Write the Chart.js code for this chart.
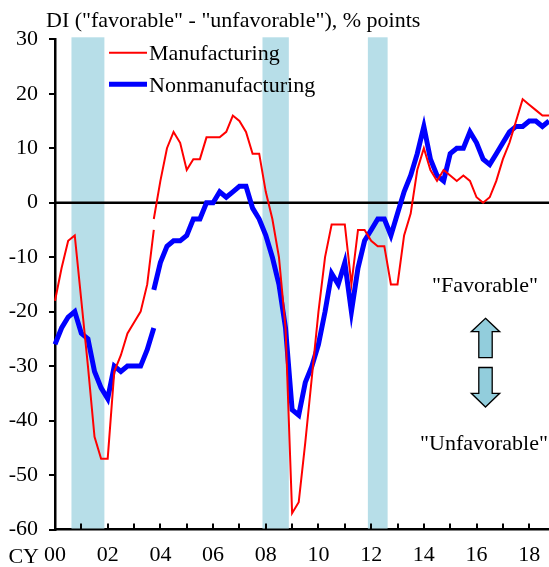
<!DOCTYPE html>
<html>
<head>
<meta charset="utf-8">
<script src="https://cdn.jsdelivr.net/npm/chart.js@4.4.1/dist/chart.umd.min.js"></script>
<style>
html,body{margin:0;padding:0;background:#ffffff;}
canvas{display:block;}
</style>
</head>
<body>
<canvas id="chart" width="549" height="567"></canvas>
<script>
// ---- categories: quarterly Tankan surveys, Mar 2000 .. Dec 2018 ----
const quarterLabels = [];
for (let yr = 2000; yr <= 2018; yr++) {
  for (const m of ['Mar', 'Jun', 'Sep', 'Dec']) quarterLabels.push(m + ' ' + yr);
}
const yearTickLabels = ['00', '02', '04', '06', '08', '10', '12', '14', '16', '18'];

// ---- series (old basis: Mar 2000 .. Dec 2003) ----
const mfgOld = [-18, -12, -7, -6, -18, -30, -43, -47, -47, -31, -28, -24, -22, -20, -15, -5];
const nonmfgOld = [-26, -23, -21, -20, -24, -25, -31, -34, -36, -30, -31, -30, -30, -30, -27, -23];

// ---- series (new basis: Dec 2003 .. Dec 2018) ----
const mfgNew = [-3, 4, 10, 13, 11, 6, 8, 8, 12, 12, 12, 13, 16, 15, 13, 9, 9, 2, -3, -10,
  -23, -57, -55, -44, -32, -20, -10, -4, -4, -4, -15, -5, -5, -7, -8, -8, -15, -15, -6, -2,
  6, 10, 6, 4, 6, 5, 4, 5, 4, 1, 0, 1, 4, 8, 11, 15, 19, 18, 17, 16, 16];
const nonmfgNew = [-16, -11, -8, -7, -7, -6, -3, -3, 0, 0, 2, 1, 2, 3, 3, -1, -3, -6, -10, -15,
  -23, -38, -39, -33, -30, -26, -20, -13, -15, -11, -20, -12, -7, -5, -3, -3, -6, -2, 2, 5,
  9, 14, 8, 5, 4, 9, 10, 10, 13, 11, 8, 7, 9, 11, 13, 14, 14, 15, 15, 14, 15];

// ---- shaded recession periods (first month, last month) ----
const recessions = [
  [2000, 11, 2002, 1],
  [2008, 2, 2009, 1],
  [2012, 2, 2012, 10]
];

const yTicks = { min: -60, max: 30, step: 10 };

// full-length arrays aligned to quarterLabels
const newStart = quarterLabels.length - mfgNew.length;
const pad = n => new Array(n).fill(null);
const mfgOldFull = mfgOld.concat(pad(quarterLabels.length - mfgOld.length));
const nonOldFull = nonmfgOld.concat(pad(quarterLabels.length - nonmfgOld.length));
const mfgNewFull = pad(newStart).concat(mfgNew);
const nonNewFull = pad(newStart).concat(nonmfgNew);

const FONT = "'Liberation Serif', 'Times New Roman', serif";
const RED = '#ff0000', BLUE = '#0000ff';
const BAND = '#b7dee8', ARROW = '#92cddc';

function monthIndex(y, m) { return (y - 2000) * 4 + (m - 3) / 3; }

const overlay = {
  id: 'overlay',
  beforeDatasetsDraw(chart) {
    const { ctx, chartArea: a, scales: { x, y } } = chart;
    ctx.save();
    ctx.fillStyle = BAND;
    for (const [y0, m0, y1, m1] of recessions) {
      const px0 = x.getPixelForValue(monthIndex(y0, m0) - 1 / 6);
      const px1 = x.getPixelForValue(monthIndex(y1, m1) + 1 / 6);
      ctx.fillRect(px0, a.top - 2, px1 - px0, a.bottom - a.top + 1);
    }
    const yz = y.getPixelForValue(0);
    ctx.strokeStyle = '#000';
    ctx.lineWidth = 2.5;
    ctx.beginPath();
    ctx.moveTo(a.left, yz);
    ctx.lineTo(a.right, yz);
    ctx.stroke();
    ctx.restore();
  },
  afterDraw(chart) {
    const { ctx, chartArea: a, scales: { x, y } } = chart;
    ctx.save();
    // inward year ticks on x axis
    ctx.strokeStyle = '#000';
    ctx.lineWidth = 2;
    for (let i = 4; i < quarterLabels.length; i += 4) {
      const px = Math.round(x.getPixelForValue(i));
      ctx.beginPath();
      ctx.moveTo(px, a.bottom);
      ctx.lineTo(px, a.bottom - 6);
      ctx.stroke();
    }
    // "CY" prefix
    ctx.fillStyle = '#000';
    ctx.font = '22px ' + FONT;
    ctx.textBaseline = 'alphabetic';
    ctx.textAlign = 'right';
    ctx.fillText('CY', 39, 563);
    // title
    ctx.textAlign = 'left';
    ctx.fillText('DI ("favorable" - "unfavorable"), % points', 46, 27);
    // legend
    ctx.lineCap = 'butt';
    ctx.strokeStyle = RED; ctx.lineWidth = 2;
    ctx.beginPath(); ctx.moveTo(109, 52.7); ctx.lineTo(147, 52.7); ctx.stroke();
    ctx.strokeStyle = BLUE; ctx.lineWidth = 5;
    ctx.beginPath(); ctx.moveTo(109, 84.3); ctx.lineTo(147, 84.3); ctx.stroke();
    ctx.fillText('Manufacturing', 149, 59.5);
    ctx.fillText('Nonmanufacturing', 149, 91.5);
    // favorable / unfavorable
    ctx.textAlign = 'center';
    ctx.fillText('"Favorable"', 485, 291.5);
    ctx.fillText('"Unfavorable"', 484, 450);
    // arrows
    const cx = 485.5;
    ctx.fillStyle = ARROW; ctx.strokeStyle = '#000'; ctx.lineWidth = 1.3;
    ctx.lineJoin = 'miter';
    ctx.beginPath();
    ctx.moveTo(cx, 318.3);
    ctx.lineTo(cx + 14.2, 331.7); ctx.lineTo(cx + 6.7, 331.7); ctx.lineTo(cx + 6.7, 357.7);
    ctx.lineTo(cx - 6.7, 357.7); ctx.lineTo(cx - 6.7, 331.7); ctx.lineTo(cx - 14.2, 331.7);
    ctx.closePath(); ctx.fill(); ctx.stroke();
    ctx.beginPath();
    ctx.moveTo(cx, 407);
    ctx.lineTo(cx + 14.2, 393.3); ctx.lineTo(cx + 6.7, 393.3); ctx.lineTo(cx + 6.7, 367.5);
    ctx.lineTo(cx - 6.7, 367.5); ctx.lineTo(cx - 6.7, 393.3); ctx.lineTo(cx - 14.2, 393.3);
    ctx.closePath(); ctx.fill(); ctx.stroke();
    ctx.restore();
  }
};

const lineDs = (label, data, color, width) => ({
  label, data, borderColor: color, backgroundColor: color, borderWidth: width,
  pointRadius: 0, pointHoverRadius: 0, tension: 0, spanGaps: false, fill: false,
  borderJoinStyle: 'miter', borderCapStyle: 'butt'
});

new Chart(document.getElementById('chart'), {
  type: 'line',
  data: {
    labels: quarterLabels,
    datasets: [
      lineDs('Manufacturing', mfgOldFull, RED, 2),
      lineDs('Manufacturing (new basis)', mfgNewFull, RED, 2),
      lineDs('Nonmanufacturing', nonOldFull, BLUE, 5),
      lineDs('Nonmanufacturing (new basis)', nonNewFull, BLUE, 5)
    ]
  },
  options: {
    responsive: false,
    devicePixelRatio: 1,
    animation: false,
    events: [],
    layout: { autoPadding: false, padding: { top: 39.3, right: 0, bottom: 0, left: 0 } },
    plugins: { legend: { display: false }, title: { display: false }, tooltip: { enabled: false } },
    scales: {
      x: {
        type: 'category',
        offset: false,
        grid: { display: false },
        border: { display: true, color: '#000', width: 2.5 },
        ticks: {
          autoSkip: false, maxRotation: 0, minRotation: 0, padding: 5,
          color: '#000', font: { family: FONT, size: 22 },
          callback: (v, i) => (i % 8 === 0 ? yearTickLabels[i / 8] : '')
        },
        afterFit: s => { s.height = 567 - 529.5; s.paddingLeft = 0; s.paddingRight = 0; }
      },
      y: {
        min: yTicks.min, max: yTicks.max,
        grid: { drawOnChartArea: false, drawTicks: true, tickLength: 6, color: '#000', lineWidth: 2 },
        border: { display: true, color: '#000', width: 2.5 },
        ticks: { stepSize: yTicks.step, padding: 11, color: '#000', font: { family: FONT, size: 22 } },
        afterFit: s => { s.width = 55; s.paddingTop = 0; s.paddingBottom = 0; }
      }
    }
  },
  plugins: [overlay]
});
</script>
</body>
</html>
